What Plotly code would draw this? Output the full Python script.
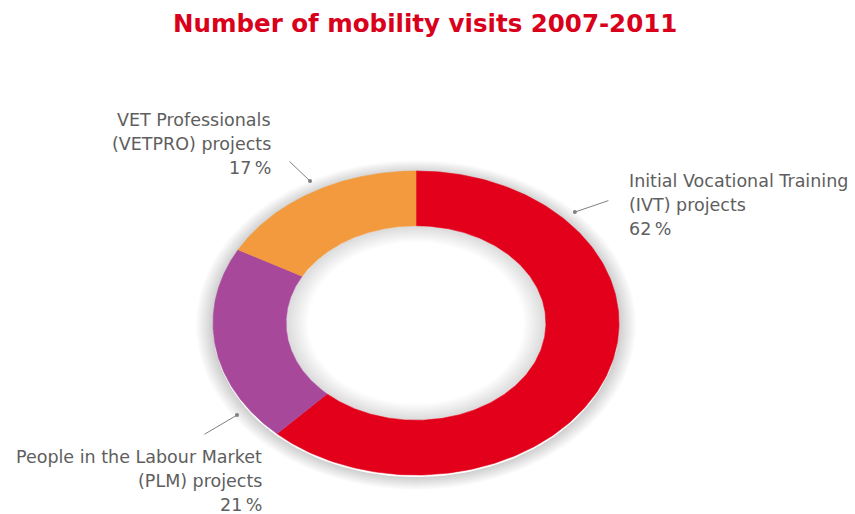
import numpy as np
import plotly.graph_objects as go

# --- data -------------------------------------------------------------
categories = ["IVT", "PLM", "VETPRO"]
label_lines = {
    "IVT": ["Initial Vocational Training", "(IVT) projects"],
    "PLM": ["People in the Labour Market", "(PLM) projects"],
    "VETPRO": ["VET Professionals", "(VETPRO) projects"],
}
shares = [62, 21, 17]  # percent of mobility visits
title = "Number of mobility visits 2007-2011"

# --- style ------------------------------------------------------------
W, H = 855, 514
colors = {"IVT": "#E2001A", "PLM": "#A8489A", "VETPRO": "#F29A3D"}
CX, CY, RX, RY = 416, 323, 203, 152   # ring centre and outer radii (px)
HOLE = 0.64
TEXT_COL = "#5e5e5e"
FONT = "DejaVu Sans"

# label layout: anchor angle on the ring (deg clockwise from 12 o'clock),
# leader-line tail offset (px), text anchor and alignment
label_layout = {
    "VETPRO": dict(angle=330.8, tail=(-22, -21), pos=(273, 120), align="right"),
    "IVT": dict(angle=47.0, tail=(35, -12), pos=(627, 181), align="left"),
    "PLM": dict(angle=235.5, tail=(-34, 20), pos=(264, 457), align="right"),
}
LINE_GAP = 24


def ell(r, theta_deg):
    t = np.radians(theta_deg)
    return CX + RX * r * np.sin(t), CY - RY * r * np.cos(t)


def ring_path(r_in, r_out, a0, a1, n=200):
    th = np.linspace(a0, a1, n)
    xo, yo = ell(r_out, th)
    xi, yi = ell(r_in, th[::-1])
    return np.concatenate([xo, xi, xo[:1]]), np.concatenate([yo, yi, yo[:1]])


fig = go.Figure()

# soft shadow around the outer edge and inside the hole
for i in range(12):
    x, y = ring_path(1.0, 1.0 + 0.007 * (i + 1), 0, 360)
    fig.add_trace(go.Scatter(x=x, y=y + 2, fill="toself", mode="lines",
                             line=dict(width=0), fillcolor="rgba(0,0,0,0.014)",
                             hoverinfo="skip", showlegend=False))
for i in range(12):
    x, y = ring_path(HOLE - 0.009 * (i + 1), HOLE, 0, 360)
    fig.add_trace(go.Scatter(x=x, y=y, fill="toself", mode="lines",
                             line=dict(width=0), fillcolor="rgba(0,0,0,0.012)",
                             hoverinfo="skip", showlegend=False))

# donut slices, clockwise from the top
total = sum(shares)
start = 0.0
for cat, v in zip(categories, shares):
    span = 360.0 * v / total
    x, y = ring_path(HOLE, 1.0, start, start + span)
    fig.add_trace(go.Scatter(x=x, y=y, fill="toself", mode="lines",
                             line=dict(width=0.6, color=colors[cat]),
                             fillcolor=colors[cat], name=cat,
                             hoverinfo="name", showlegend=False))
    start += span

annotations = []
for cat, v in zip(categories, shares):
    lay = label_layout[cat]
    ax_, ay_ = ell(1.07, lay["angle"])
    annotations.append(dict(
        x=ax_, y=ay_, xref="x", yref="y", text="", showarrow=True,
        ax=lay["tail"][0], ay=lay["tail"][1], arrowhead=6, arrowsize=1.0,
        arrowwidth=1, arrowcolor="#808080", standoff=0, startstandoff=0))
    lines = label_lines[cat] + [f"{v}\u2009%"]
    tx, ty = lay["pos"]
    for k, line in enumerate(lines):
        annotations.append(dict(
            x=tx, y=ty + k * LINE_GAP, xref="x", yref="y", text=line,
            showarrow=False, xanchor=lay["align"], yanchor="middle",
            font=dict(family=FONT, size=17.5, color=TEXT_COL)))

annotations.append(dict(
    x=425, y=23, xref="x", yref="y", text=title, showarrow=False,
    xanchor="center", yanchor="middle",
    font=dict(family=FONT, size=24.5, color="#D9001B", weight="bold")))

fig.update_layout(
    width=W, height=H, margin=dict(l=0, r=0, t=0, b=0),
    paper_bgcolor="white", plot_bgcolor="white",
    xaxis=dict(range=[0, W], visible=False, fixedrange=True),
    yaxis=dict(range=[H, 0], visible=False, fixedrange=True),
    annotations=annotations,
)

fig.write_html("out.html")
